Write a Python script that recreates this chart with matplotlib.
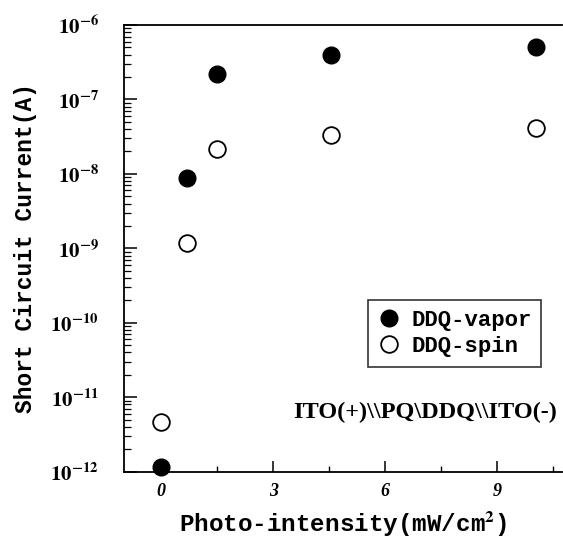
import numpy as np
import matplotlib
matplotlib.use('Agg')
import matplotlib.pyplot as plt
from matplotlib.ticker import FixedLocator, LogLocator, FuncFormatter

# values
intensity = [0.0, 0.7, 1.5, 4.55, 10.03]
vapor = [1.15e-12, 8.7e-9, 2.2e-7, 4.0e-7, 5.1e-7]
spin = [4.7e-12, 1.17e-9, 2.15e-8, 3.3e-8, 4.1e-8]
xticks = [0, 3, 6, 9]
xminor = [1.5, 4.5, 7.5, 10.5]
yticks = [1e-12, 1e-11, 1e-10, 1e-9, 1e-8, 1e-7, 1e-6]

plt.rcParams['mathtext.fontset'] = 'stix'
mono = 'Liberation Mono'
serif = 'Liberation Serif'

fig = plt.figure(figsize=(5.63, 5.44), dpi=100)
ax = fig.add_axes([0.220, 0.133, 0.779, 0.821])

ax.plot(intensity, vapor, 'o', color='black', markersize=12,
        label='DDQ-vapor', clip_on=False, zorder=3)
ax.plot(intensity, spin, 'o', markerfacecolor='white', markeredgecolor='black',
        markeredgewidth=1.3, markersize=12, label='DDQ-spin', clip_on=False, zorder=3)

ax.set_yscale('log')
ax.set_ylim(1e-12, 1e-6)
ax.set_xlim(-1, 10.75)

ax.spines['right'].set_visible(False)
for s in ['left', 'bottom', 'top']:
    ax.spines[s].set_linewidth(1.3)

ax.xaxis.set_major_locator(FixedLocator(xticks))
ax.xaxis.set_minor_locator(FixedLocator(xminor))
ax.yaxis.set_major_locator(FixedLocator(yticks))
ax.yaxis.set_minor_locator(LogLocator(base=10, subs=np.arange(2, 10), numticks=20))
ax.yaxis.set_major_formatter(FuncFormatter(
    lambda v, p: r'$\mathbf{10^{%d}}$' % int(round(np.log10(v)))))

ax.tick_params(axis='both', which='both', direction='in', top=False, right=False)
ax.tick_params(axis='y', which='major', length=9, width=1.1, pad=18, labelsize=15)
ax.tick_params(axis='y', which='minor', length=5, width=0.9)
ax.tick_params(axis='x', which='major', length=8, width=1.1, pad=8)
ax.tick_params(axis='x', which='minor', length=4, width=1.0)
for lab in ax.get_xticklabels():
    lab.set_fontfamily(serif)
    lab.set_fontweight('bold')
    lab.set_fontstyle('italic')
    lab.set_fontsize(13)

ax.set_xlabel(r'Photo-intensity(mW/cm$^{\mathbf{2}}$)', fontfamily=mono,
              fontweight='bold', fontsize=17.5, labelpad=7)
ax.set_ylabel('Short Circuit Current(A)', fontfamily=mono,
              fontweight='bold', fontsize=16.5)
ax.yaxis.set_label_coords(-0.197, 0.5)

leg = ax.legend(loc='upper left', bbox_to_anchor=(0.556, 0.385), borderaxespad=0,
                frameon=True, fancybox=False, edgecolor='black',
                prop={'family': mono, 'weight': 'bold', 'size': 16},
                handletextpad=0.5, borderpad=0.45, labelspacing=0.25,
                handlelength=1.0)
leg.get_frame().set_linewidth(1.2)

ax.text(0.987, 0.133, r'ITO(+)\\PQ\DDQ\\ITO(-)', transform=ax.transAxes,
        ha='right', va='center', fontfamily=serif, fontweight='bold', fontsize=17.5)

fig.savefig('out.png', dpi=100)
